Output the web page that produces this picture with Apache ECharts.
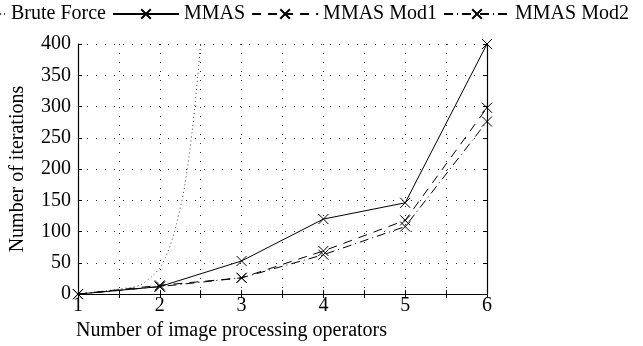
<!DOCTYPE html>
<html>
<head>
<meta charset="utf-8">
<script src="https://cdn.jsdelivr.net/npm/echarts@6/dist/echarts.min.js"></script>
<style>
    html, body { margin: 0; padding: 0; background: #fff; }
    #lineChart { width: 643px; height: 346px; }
</style>
</head>
<body>
<div id="lineChart"></div>
<script>
// data
const operators = [1, 2, 3, 4, 5, 6];
const mmas = [0, 12, 53, 120, 146, 400];
const mmasMod1 = [0, 14, 26, 69, 118, 298];
const mmasMod2 = [0, 12, 26, 63, 108, 276];
// brute force curve leaves the plot at the top, read along its visible part
const bruteX = [1, 1.5, 1.75, 1.9, 2, 2.1, 2.2, 2.3, 2.4, 2.5];
const bruteY = [0, 8, 14, 28, 42, 68, 110, 170, 265, 400];
const yTicks = [0, 50, 100, 150, 200, 250, 300, 350, 400];
const seriesNames = ['Brute Force', 'MMAS', 'MMAS Mod1', 'MMAS Mod2'];

const fontFamily = '"Liberation Serif", "Times New Roman", serif';
const black = '#000';
const cross = 'path://M0,0L10,10M10,0L0,10';

function pairs(xs, ys) {
    return xs.map((x, i) => [x, ys[i]]);
}

let chart = echarts.init(document.getElementById('lineChart'));

let markStyle = {
    color: black,
    borderColor: black,
    borderWidth: 1
};

let option = {
    animation: false,
    backgroundColor: '#fff',
    textStyle: { fontFamily: fontFamily, color: black },
    legend: {
        data: seriesNames,
        left: -61,
        top: 4,
        padding: 0,
        itemWidth: 66,
        itemHeight: 12,
        itemGap: 6,
        textStyle: { fontFamily: fontFamily, fontSize: 20, color: black }
    },
    grid: {
        left: 76,
        right: 156,
        top: 44,
        bottom: 50
    },
    xAxis: [
        {
            type: 'value',
            min: 1,
            max: 6,
            interval: 0.5,
            name: 'Number of image processing operators',
            nameLocation: 'middle',
            nameGap: 24,
            nameTextStyle: {
                fontFamily: fontFamily,
                fontSize: 20,
                color: black,
                verticalAlign: 'top',
                padding: [0, 102, 0, 0]
            },
            axisLine: { show: true, lineStyle: { color: black, width: 1.2 } },
            axisTick: { show: true, inside: true, length: 4, lineStyle: { color: black } },
            axisLabel: {
                margin: 2,
                fontSize: 20,
                color: black,
                fontFamily: fontFamily,
                formatter: function (v) {
                    return Number.isInteger(v) ? String(v) : '';
                }
            },
            splitLine: { show: true, lineStyle: { color: '#333', type: [1, 8], width: 1 } }
        },
        {
            type: 'value',
            position: 'top',
            min: 1,
            max: 6,
            interval: 0.5,
            axisLine: { show: true, lineStyle: { color: black, width: 1.2 } },
            axisTick: { show: true, inside: true, length: 4, lineStyle: { color: black } },
            axisLabel: { show: false },
            splitLine: { show: false }
        }
    ],
    yAxis: [
        {
            type: 'value',
            min: 0,
            max: 400,
            interval: 50,
            name: 'Number of iterations',
            nameLocation: 'middle',
            nameRotate: 90,
            nameGap: 50,
            nameTextStyle: { fontFamily: fontFamily, fontSize: 20, color: black },
            axisLine: { show: true, lineStyle: { color: black, width: 1.2 } },
            axisTick: { show: true, inside: true, length: 4, lineStyle: { color: black } },
            axisLabel: {
                margin: 7,
                fontSize: 20,
                color: black,
                fontFamily: fontFamily,
                formatter: function (v) {
                    return yTicks.indexOf(v) >= 0 ? String(v) : '';
                }
            },
            splitLine: { show: true, lineStyle: { color: '#333', type: [1, 8], width: 1 } }
        },
        {
            type: 'value',
            position: 'right',
            min: 0,
            max: 400,
            interval: 50,
            axisLine: { show: true, lineStyle: { color: black, width: 1.2 } },
            axisTick: { show: true, inside: true, length: 4, lineStyle: { color: black } },
            axisLabel: { show: false },
            splitLine: { show: false }
        }
    ],
    series: [
        { // brute force
            name: seriesNames[0],
            type: 'line',
            symbol: 'none',
            smooth: 0.3,
            lineStyle: { color: '#444', width: 1, type: [1, 3] },
            itemStyle: { color: '#444' },
            data: pairs(bruteX, bruteY)
        },
        { // MMAS
            name: seriesNames[1],
            type: 'line',
            symbol: cross,
            symbolSize: 10,
            lineStyle: { color: black, width: 1, type: 'solid' },
            itemStyle: markStyle,
            data: pairs(operators, mmas)
        },
        { // MMAS Mod1
            name: seriesNames[2],
            type: 'line',
            symbol: cross,
            symbolSize: 10,
            lineStyle: { color: black, width: 1, type: [9, 7] },
            itemStyle: markStyle,
            data: pairs(operators, mmasMod1)
        },
        { // MMAS Mod2
            name: seriesNames[3],
            type: 'line',
            symbol: cross,
            symbolSize: 10,
            lineStyle: { color: black, width: 1, type: [9, 4, 1, 4] },
            itemStyle: markStyle,
            data: pairs(operators, mmasMod2)
        }
    ]
};

chart.setOption(option);
window.addEventListener('resize', () => {
    chart.resize();
});
</script>
</body>
</html>
